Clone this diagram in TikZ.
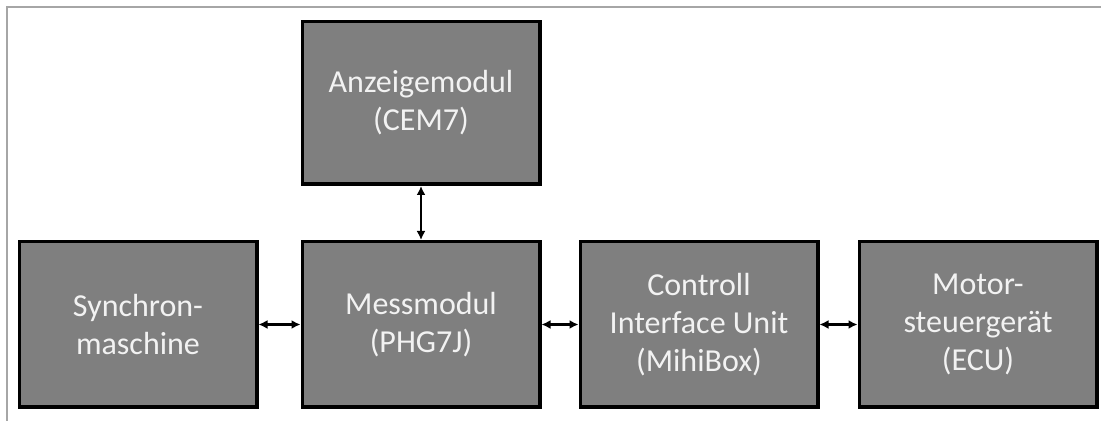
\documentclass[tikz,border=0pt]{standalone}
\usepackage{fontspec}
\setmainfont{Carlito}
\usepackage{xcolor}
\usepackage{tikz}
\usetikzlibrary{arrows.meta}
\usetikzlibrary{shapes,positioning,fit,backgrounds}
\definecolor{boxgray}{HTML}{7F7F7F}
\definecolor{boxtext}{HTML}{F2F2F2}
\definecolor{framegray}{HTML}{A6A6A6}

\begin{document}
\begin{tikzpicture}[x=1pt,y=1pt,
    modul/.style={draw=black,line width=3.5pt,fill=boxgray,text=boxtext,
      minimum width=237.5pt,minimum height=165.5pt,align=center,
      font=\fontsize{32}{38}\selectfont},
    link/.style={{Latex[length=9pt,width=9pt]}-{Latex[length=9pt,width=9pt]},line width=2.5pt}]
  \useasboundingbox (0,0) rectangle (1101,423);
  \draw[framegray,line width=1.5pt] (7,2) -- (7,416) -- (1101,416);
  \node[modul] (mess) at (421,98.5) {Messmodul\\(PHG7J)};
  \node[modul,left=42pt of mess] (sync) {Synchron-\\maschine};
  \node[modul,right=37pt of mess] (ciu) {Controll\\Interface Unit\\(MihiBox)};
  \node[modul,right=38pt of ciu] (ecu) {Motor-\\steuergerät\\(ECU)};
  \node[modul,above=54pt of mess,minimum height=162.5pt] (anz) {Anzeigemodul\\(CEM7)};
  \draw[link] (sync) -- (mess);
  \draw[link] (mess) -- (ciu);
  \draw[link] (ciu) -- (ecu);
  \draw[link] (anz) -- (mess);
\end{tikzpicture}
\end{document}
